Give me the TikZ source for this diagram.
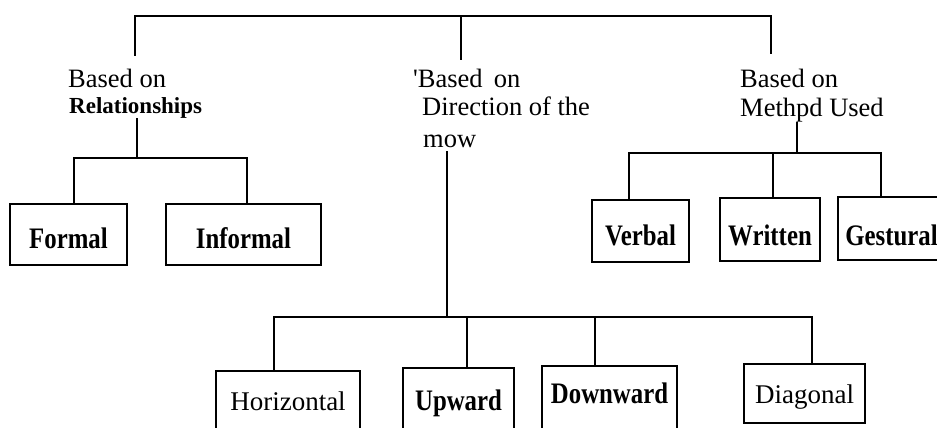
\documentclass[tikz,border=0pt]{standalone}
\usepackage{graphicx}
\usepackage{fontspec}
\setmainfont{Liberation Serif}[Ligatures=TeXReset]
\newcommand\tallb[1]{\scalebox{1}[1.2]{#1}}
\begin{document}
\begin{tikzpicture}[x=1pt,y=-1pt,
  lbl/.style={anchor=base west, inner sep=0pt, font=\fontsize{26.5}{28}\selectfont},
  blbl/.style={lbl, font=\fontsize{23}{26}\selectfont\bfseries},
  boxn/.style={draw, line width=1.7pt, inner sep=0pt, align=center, anchor=base, font=\fontsize{24.8}{26}\selectfont\bfseries},
  rboxn/.style={boxn, font=\fontsize{27}{28}\selectfont},
  conn/.style={line width=1.6pt},
  topline/.style={line width=2.6pt}]
\clip (0,0) rectangle (937,428);
\fill[white] (0,0) rectangle (937,428);

% category labels
\node[lbl]  (relA) at (68,88)  {Based on};
\node[blbl] (relB) at (69,113) {Relationships};
\node[lbl]  (dirA) at (413,88) {'Based\, on};
\node[lbl]  (dirB) at (422,115) {Direction of the};
\node[lbl]  (dirC) at (423,147) {mow};
\node[lbl]  (metA) at (740,88) {Based on};
\node[lbl]  (metB) at (740,116) {Methpd Used};

% boxes
\node[boxn,  text width=117pt, text height=44pt, text depth=17pt] (formal)   at (68.5,248)  {\tallb{Formal}\hspace*{16pt}};
\node[boxn,  text width=155pt, text height=44pt, text depth=17pt] (informal) at (243.5,248) {\tallb{Informal}};
\node[boxn,  text width=97pt,  text height=45pt, text depth=17pt] (verbal)   at (640.5,245) {\tallb{Verbal}};
\node[boxn,  text width=100pt, text height=47pt, text depth=16pt] (written)  at (770,245)   {\tallb{Written}};
\node[boxn,  text width=107pt, text height=48pt, text depth=15pt] (gestural) at (891.5,245) {\tallb{Gestural}};
\node[rboxn, text width=144pt, text height=39pt, text depth=30pt] (horiz)    at (288,410)   {Horizontal};
\node[boxn,  text width=111pt, text height=42pt, text depth=30pt] (upward)   at (458.5,410) {\tallb{Upward}};
\node[boxn,  text width=135pt, text height=37pt, text depth=37pt] (downward) at (609.5,403) {\tallb{Downward}};
\node[rboxn, text width=121pt, text height=39pt, text depth=20pt] (diagonal) at (804.5,403) {Diagonal};

% top bracket
\coordinate (tL) at (135,16);
\coordinate (tC) at (461,16);
\coordinate (tR) at (771,16);
\draw[topline] (135,56) -- (tL) -- (tR) -- (771,54);
\draw[conn] (tC) -- (461,60);

% relationships branch
\coordinate (jR) at (137,158);
\coordinate (bR1) at (74,158);
\coordinate (bR2) at (247,158);
\draw[conn] (jR |- relB.south) -- (jR);
\draw[conn] (formal.north -| bR1) -- (bR1) -- (bR2) -- (informal.north -| bR2);

% direction branch
\coordinate (jD) at (447,317);
\coordinate (bD1) at (274,317);
\coordinate (bD2) at (467,317);
\coordinate (bD3) at (595,317);
\coordinate (bD4) at (812,317);
\draw[conn, shorten <=4pt] (jD |- dirC.south) -- (jD);
\draw[conn] (horiz.north -| bD1) -- (bD1) -- (bD4) -- (diagonal.north -| bD4);
\draw[conn] (bD2) -- (upward.north -| bD2);
\draw[conn] (bD3) -- (downward.north -| bD3);

% method branch
\coordinate (jM) at (797,153);
\coordinate (bM1) at (629,153);
\coordinate (bM2) at (773,153);
\coordinate (bM3) at (881,153);
\draw[conn] (jM |- metB.south) -- (jM);
\draw[conn] (verbal.north -| bM1) -- (bM1) -- (bM3) -- (gestural.north -| bM3);
\draw[conn] (bM2) -- (written.north -| bM2);
\end{tikzpicture}
\end{document}
